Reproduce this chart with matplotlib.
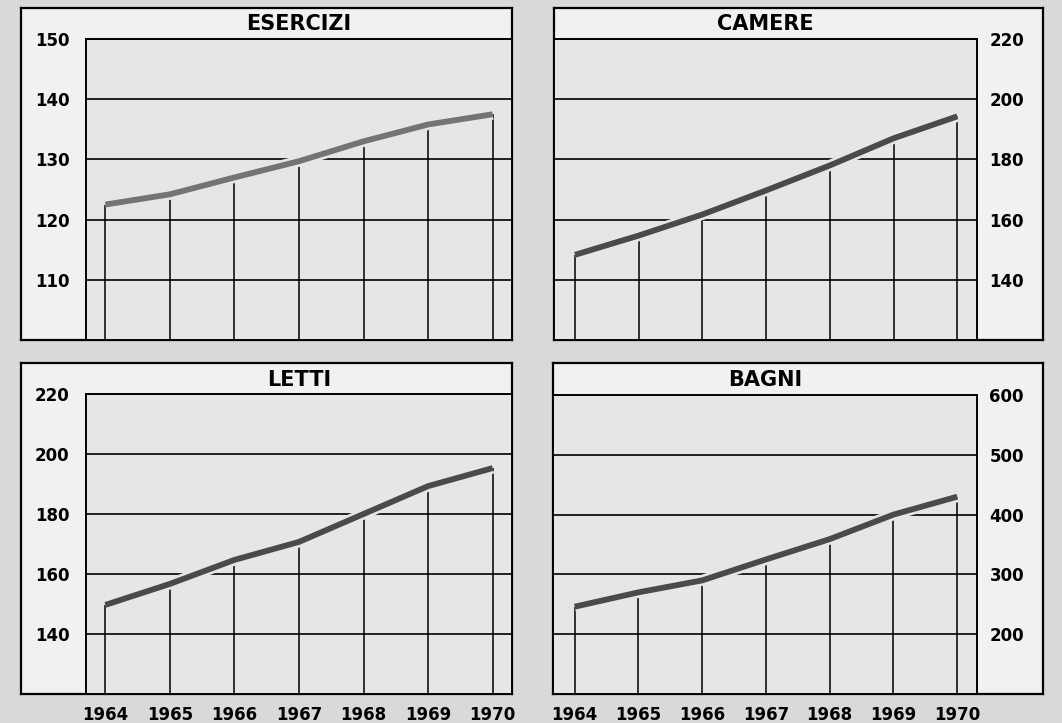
import matplotlib
matplotlib.use('Agg')
import matplotlib.pyplot as plt
import matplotlib.patheffects as pe

# ---- data ----
years = [1964, 1965, 1966, 1967, 1968, 1969, 1970]
year_labels = ['1964', '1965', '1966', '1967', '1968', '1969', '1970']

esercizi = [122.5, 124.2, 127.0, 129.7, 133.0, 135.8, 137.5]
camere = [148.3, 154.7, 161.7, 169.7, 178.0, 187.0, 194.3]
letti = [149.7, 156.7, 164.7, 170.7, 180.0, 189.3, 195.3]
bagni = [246, 270, 290, 325, 359, 400, 430]

titles = ['ESERCIZI', 'CAMERE', 'LETTI', 'BAGNI']
esercizi_ticks = [110, 120, 130, 140, 150]
camere_ticks = [140, 160, 180, 200, 220]
letti_ticks = [140, 160, 180, 200, 220]
bagni_ticks = [200, 300, 400, 500, 600]

W, H = 1062, 723
page_bg = '#d9d9d9'
outer_bg = '#f1f1f1'
inner_bg = '#e6e6e6'

fig = plt.figure(figsize=(W / 100, H / 100), dpi=100, facecolor=page_bg)


def rect(x0, y0, x1, y1):
    return [x0 / W, 1 - y1 / H, (x1 - x0) / W, (y1 - y0) / H]


panels = [
    dict(title=titles[0], vals=esercizi, ticks=esercizi_ticks, ylim=(100, 150),
         outer=(21, 8, 512, 340), inner=(86, 39, 512, 340), side='left',
         xlim=(1963.7, 1970.3), color='#747474', xlabels=False),
    dict(title=titles[1], vals=camere, ticks=camere_ticks, ylim=(120, 220),
         outer=(554, 8, 1043, 340), inner=(554, 39, 977, 340), side='right',
         xlim=(1963.67, 1970.31), color='#4a4a4a', xlabels=False),
    dict(title=titles[2], vals=letti, ticks=letti_ticks, ylim=(120, 220),
         outer=(21, 363, 512, 694), inner=(86, 394, 512, 694), side='left',
         xlim=(1963.7, 1970.3), color='#4a4a4a', xlabels=True),
    dict(title=titles[3], vals=bagni, ticks=bagni_ticks, ylim=(100, 600),
         outer=(553, 363, 1043, 694), inner=(553, 395, 977, 694), side='right',
         xlim=(1963.66, 1970.31), color='#4a4a4a', xlabels=True),
]

for p in panels:
    # outer frame
    oax = fig.add_axes(rect(*p['outer']), facecolor=outer_bg, zorder=1)
    oax.set_xticks([])
    oax.set_yticks([])
    for s in oax.spines.values():
        s.set_linewidth(1.6)
        s.set_color('black')

    ax = fig.add_axes(rect(*p['inner']), facecolor=inner_bg, zorder=2)
    ax.set_xlim(*p['xlim'])
    ax.set_ylim(*p['ylim'])
    ax.set_axisbelow(True)
    for s in ax.spines.values():
        s.set_linewidth(1.4)
        s.set_color('black')

    ax.set_yticks(p['ticks'])
    ax.set_yticklabels([str(t) for t in p['ticks']])
    ax.yaxis.grid(True, color='black', linewidth=1.2)
    if p['side'] == 'right':
        ax.yaxis.tick_right()
        ax.tick_params(axis='y', length=0, pad=9, labelsize=12)
    else:
        ax.tick_params(axis='y', length=0, pad=12, labelsize=12)
    for lab in ax.get_yticklabels():
        lab.set_fontweight('bold')

    ax.set_xticks(years)
    if p['xlabels']:
        ax.set_xticklabels(year_labels)
        ax.tick_params(axis='x', length=0, pad=9, labelsize=12)
        for lab in ax.get_xticklabels():
            lab.set_fontweight('bold')
    else:
        ax.set_xticklabels([])
        ax.tick_params(axis='x', length=0)

    # drop lines
    ax.vlines(years, p['ylim'][0], p['vals'], color='black', linewidth=1.1, zorder=2)
    # main line with halo
    ax.plot(years, p['vals'], color=p['color'], linewidth=4.2, solid_capstyle='butt',
            zorder=3,
            path_effects=[pe.Stroke(linewidth=8.0, foreground=inner_bg), pe.Normal()])

    # title
    x0, y0, x1, y1 = p['inner']
    ox0, oy0, ox1, oy1 = p['outer']
    fig.text(((x0 + x1) / 2) / W, 1 - ((oy0 + y0) / 2 + 1) / H, p['title'],
             ha='center', va='center', fontsize=15, fontweight='bold',
             color='black', zorder=5)

fig.savefig('out.png', dpi=100, facecolor=page_bg)
